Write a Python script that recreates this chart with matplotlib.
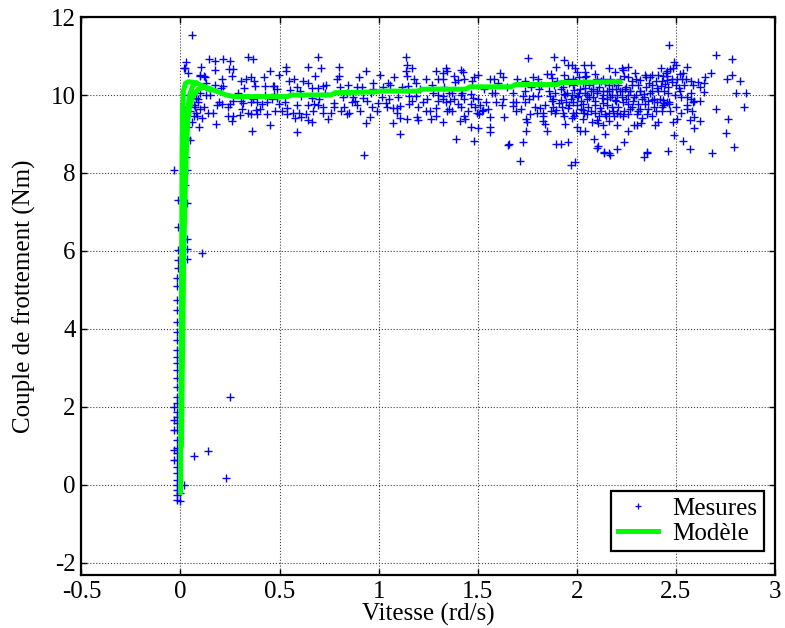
import numpy as np
import matplotlib
matplotlib.use('Agg')
import matplotlib.pyplot as plt
from matplotlib.lines import Line2D

plt.rcParams['font.family'] = ['Liberation Serif', 'DejaVu Serif']
plt.rcParams['font.size'] = 18

# --- measured points (vitesse rd/s, couple Nm), read off the picture ---
# vertical strip around zero speed
zero_x = [-0.018, -0.018, -0.017, -0.018, -0.017, -0.018, -0.017, -0.018, -0.017, -0.018,
          -0.017, -0.018, -0.017, -0.018, -0.017, -0.018, -0.017, -0.018, -0.017, -0.018,
          -0.017, -0.018, -0.017, -0.018, -0.017, -0.018, -0.017, -0.018, -0.017, -0.018,
          -0.033, -0.033, -0.033, -0.033, -0.033, -0.033,
          -0.015, -0.015, -0.015, -0.015, -0.015,
          0.031, 0.031, 0.031, 0.031, 0.031, 0.04, 0.05, 0.018, 0.026, 0.04, 0.099, 0.124,
          0.11, 0.25, 0.14, 0.07, 0.23, 0.018, 0.0, 0.0]
zero_y = [5.30, 5.09, 4.74, 4.49, 4.19, 3.93, 3.72, 3.46, 3.29, 3.12,
          2.95, 2.73, 2.52, 2.26, 2.09, 1.88, 1.75, 1.58, 1.41, 1.15,
          0.94, 0.81, 0.64, 0.47, 0.30, 0.13, 0.0, -0.13, -0.26, -0.38,
          8.08, 2.0, 1.66, 1.41, 0.9, 0.64,
          7.31, 6.62, 6.03, 5.77, 5.56,
          8.08, 7.24, 6.30, 6.04, 5.79, 9.19, 8.85, 10.68, 10.84, 10.57, 10.5, 10.45,
          5.96, 2.25, 0.87, 0.73, 0.17, 0.0, -0.21, -0.40]

# low speed cloud, 0.05 .. 0.66 rd/s
low_x = [0.06, 0.146, 0.175, 0.213, 0.250, 0.342, 0.364, 0.022, 0.102, 0.119, 0.099, 0.172,
         0.245, 0.264, 0.262, 0.208, 0.304, 0.356, 0.371, 0.452, 0.499, 0.533, 0.533, 0.573,
         0.646, 0.646, 0.172, 0.213, 0.203, 0.320, 0.376, 0.427, 0.469, 0.489, 0.553, 0.586,
         0.603, 0.607, 0.099, 0.129, 0.078, 0.090, 0.073, 0.099, 0.068, 0.085, 0.196, 0.186,
         0.208, 0.250, 0.264, 0.238, 0.304, 0.317, 0.354, 0.364, 0.385, 0.381, 0.354, 0.341,
         0.301, 0.267, 0.242, 0.259, 0.166, 0.180, 0.092, 0.385, 0.410, 0.438, 0.438, 0.452,
         0.477, 0.489, 0.499, 0.536, 0.536, 0.566, 0.578, 0.600, 0.607, 0.586, 0.363, 0.646,
         0.634, 0.646, 0.528, 0.472, 0.427, 0.472]
low_y = [11.54, 10.92, 10.87, 10.92, 10.87, 10.98, 10.92, 10.68, 10.72, 10.49, 10.52, 10.64,
         10.66, 10.66, 10.50, 10.40, 10.35, 10.46, 10.35, 10.61, 10.51, 10.72, 10.61, 10.40,
         10.71, 10.31, 10.26, 10.24, 10.17, 10.17, 10.24, 10.24, 10.24, 10.15, 10.13, 10.20,
         10.09, 9.98, 10.05, 10.0, 9.93, 9.83, 9.70, 9.64, 9.47, 9.47, 9.81, 9.74,
         9.78, 9.78, 9.84, 9.69, 9.84, 9.79, 9.82, 9.91, 9.82, 9.61, 9.52, 9.53,
         9.48, 9.47, 9.47, 9.33, 9.53, 9.25, 9.19, 9.52, 9.76, 9.81, 9.50, 9.23,
         9.59, 9.93, 9.78, 9.66, 9.50, 9.55, 9.42, 9.55, 9.44, 9.04, 9.07, 9.74,
         9.52, 9.36, 9.83, 10.03, 9.99, 10.23]

# 0.66 .. 1.32 rd/s
mid_x = [0.696, 0.707, 0.798, 0.798, 0.936, 1.007, 1.139, 1.142, 1.139, 1.169, 1.142, 1.179,
         1.239, 1.302, 1.290, 1.188, 1.150, 0.663, 0.696, 0.721, 0.735, 0.805, 0.847, 0.890,
         0.916, 0.970, 0.974, 1.045, 1.057, 0.663, 0.675, 0.696, 0.718, 0.718, 0.668, 0.663,
         0.746, 0.775, 0.775, 0.822, 0.827, 0.852, 0.840, 0.865, 0.882, 0.890, 0.907, 0.923,
         0.957, 0.965, 0.936, 0.999, 1.038, 1.041, 1.016, 1.071, 1.095, 1.095, 1.109, 1.109,
         1.071, 1.142, 1.155, 1.155, 1.188, 1.200, 1.195, 1.200, 1.226, 1.243, 1.259, 1.263,
         1.290, 1.290, 1.276, 1.302, 1.109, 0.927]
mid_y = [10.98, 10.68, 10.72, 10.48, 10.61, 10.51, 10.98, 10.78, 10.61, 10.68, 10.48, 10.40,
         10.40, 10.40, 10.61, 10.30, 10.24, 10.18, 10.19, 10.24, 10.26, 10.21, 10.26, 10.21,
         10.21, 10.32, 10.16, 10.30, 10.26, 9.93, 9.76, 9.74, 9.70, 9.55, 9.59, 9.31,
         9.38, 9.79, 9.68, 9.95, 9.70, 9.55, 9.50, 9.81, 9.84, 9.74, 9.59, 9.93,
         9.44, 9.70, 9.27, 9.79, 9.79, 9.68, 9.95, 9.66, 9.67, 9.55, 9.72, 9.42,
         9.27, 9.38, 9.76, 9.97, 9.97, 9.70, 9.44, 9.36, 9.81, 9.90, 9.59, 9.38,
         9.47, 9.67, 10.04, 10.0, 9.01, 8.47]

# 1.32 .. 1.99 rd/s
upp_x = [1.756, 1.885, 1.935, 1.957, 1.895, 1.340, 1.347, 1.326, 1.323, 1.414, 1.427, 1.431,
         1.403, 1.386, 1.481, 1.503, 1.562, 1.582, 1.613, 1.626, 1.739, 1.806, 1.806, 1.873,
         1.885, 1.935, 1.957, 1.369, 1.381, 1.414, 1.431, 1.398, 1.414, 1.357, 1.347, 1.369,
         1.340, 1.326, 1.326, 1.410, 1.431, 1.436, 1.465, 1.465, 1.478, 1.487, 1.512, 1.498,
         1.508, 1.520, 1.529, 1.541, 1.562, 1.562, 1.562, 1.465, 1.503, 1.481, 1.391, 1.587,
         1.592, 1.621, 1.633, 1.676, 1.676, 1.693, 1.693, 1.660, 1.730, 1.739, 1.744, 1.751,
         1.744, 1.727, 1.764, 1.781, 1.806, 1.814, 1.831, 1.831, 1.840, 1.851, 1.865, 1.873,
         1.879, 1.890, 1.895, 1.918, 1.923, 1.935, 1.935, 1.945, 1.957, 1.940, 1.895, 1.918,
         1.957, 1.323, 1.357, 1.969, 1.990, 1.713, 1.655, 2.104]
upp_y = [10.94, 10.98, 10.89, 10.76, 10.72, 10.68, 10.62, 10.56, 10.41, 10.64, 10.60, 10.42,
         10.38, 10.34, 10.47, 10.52, 10.41, 10.42, 10.56, 10.47, 10.36, 10.42, 10.32, 10.44,
         10.26, 10.52, 10.42, 10.04, 9.89, 9.99, 9.89, 9.78, 9.70, 9.64, 9.59, 9.59,
         9.81, 9.89, 9.31, 9.34, 9.47, 9.38, 9.78, 10.02, 9.93, 9.68, 9.74, 9.55,
         9.50, 9.59, 9.61, 9.83, 9.44, 9.19, 9.04, 9.19, 9.15, 8.82, 8.87, 10.04,
         9.83, 9.74, 9.44, 9.83, 9.73, 9.81, 9.59, 8.74, 9.98, 9.81, 9.38, 9.30,
         9.07, 8.79, 9.52, 9.98, 9.98, 9.67, 9.55, 9.33, 9.25, 9.07, 9.98, 9.85,
         9.70, 9.55, 9.62, 9.87, 9.70, 10.02, 9.47, 9.83, 9.67, 9.25, 8.74, 8.74,
         8.79, 9.98, 10.04, 8.20, 8.27, 8.32, 8.72, 8.65]

# dense cloud 1.97 .. 2.5 rd/s
hi_x = [2.467, 1.974, 1.991, 2.037, 2.070, 2.160, 2.193, 2.227, 2.260, 2.235, 2.293, 2.423,
        2.453, 2.000, 2.042, 2.046, 2.092, 2.100, 2.134, 1.979, 2.277, 2.319, 2.344, 2.382,
        2.411, 2.436, 2.457, 2.366, 2.423, 2.445, 2.403, 2.462, 2.319, 2.339, 2.370, 2.269,
        2.243, 2.218, 2.201, 2.176, 2.160, 2.134, 2.104, 2.070, 2.042, 2.017, 1.986, 1.974,
        2.008, 2.050, 2.083, 2.126, 2.151, 2.193, 2.235, 2.260, 2.285, 2.310, 2.344, 2.378,
        2.406, 2.433, 2.457, 2.428, 1.979, 2.000, 2.033, 2.058, 2.092, 2.117, 2.030, 1.996,
        2.037, 2.030, 1.986, 1.974, 2.143, 2.148, 2.181, 2.201, 2.235, 2.260, 2.302, 2.353,
        2.378, 2.327, 2.075, 2.109, 2.160, 2.201, 2.134, 2.302, 2.322, 2.411, 2.394, 2.288,
        2.000, 2.017, 2.042, 2.143, 2.260, 2.087, 2.238, 2.109, 2.201, 2.138, 2.165, 2.353,
        2.467, 2.461, 2.339, 2.352, 2.137, 2.167]
hi_y = [11.27, 10.76, 10.68, 10.76, 10.76, 10.70, 10.60, 10.68, 10.72, 10.64, 10.56, 10.68,
        10.61, 10.60, 10.60, 10.48, 10.53, 10.42, 10.42, 10.42, 10.36, 10.39, 10.52, 10.52,
        10.52, 10.50, 10.48, 10.32, 10.24, 10.27, 10.17, 10.21, 10.09, 10.02, 10.04, 10.09,
        10.15, 10.09, 10.00, 10.15, 10.09, 10.11, 10.09, 10.11, 10.17, 10.15, 10.13, 10.00,
        9.98, 10.00, 9.95, 9.93, 9.89, 9.87, 9.83, 9.78, 9.84, 9.76, 9.78, 9.87,
        9.81, 9.87, 9.81, 9.70, 9.83, 9.74, 9.76, 9.70, 9.74, 9.67, 9.62, 9.55,
        9.55, 9.38, 9.47, 9.40, 9.52, 9.47, 9.59, 9.55, 9.47, 9.50, 9.52, 9.50,
        9.47, 9.40, 9.30, 9.28, 9.33, 9.23, 9.23, 9.23, 9.28, 9.32, 9.22, 9.22,
        9.19, 9.07, 9.07, 8.99, 9.07, 8.87, 8.79, 8.68, 8.61, 8.53, 8.50, 8.53,
        9.78, 8.56, 8.42, 8.52, 8.52, 8.46]

# extra points filling the denser parts of the cloud
band_x = [1.86, 1.88, 1.90, 1.91, 1.93, 1.94, 1.96, 1.97, 1.99, 2.01, 2.02, 2.03, 2.05, 2.06,
          2.07, 2.08, 2.09, 2.11, 2.12, 2.13, 2.14, 2.15, 2.16, 2.17, 2.18, 2.19, 2.20, 2.21,
          2.22, 2.23, 2.24, 2.25, 2.26, 2.27, 2.28, 2.29, 2.30, 2.31, 2.32, 2.33, 2.35, 2.36,
          2.38, 2.39, 2.40, 2.42, 2.43, 2.44, 1.84, 1.87, 1.98, 2.04, 2.10, 2.19, 2.24, 2.37,
          1.81, 1.79, 1.77, 1.83,
          0.05, 0.06, 0.07, 0.08, 0.09, 0.11, 0.12, 0.13, 0.14, 0.15, 0.03, 0.04, 0.035, 0.03,
          0.025,
          0.29, 0.31, 0.33, 0.40, 0.42, 0.46, 0.51, 0.55, 0.59, 0.62, 0.68, 0.70, 0.73, 0.76,
          0.79, 0.81, 0.84, 0.87, 0.90, 0.94, 0.96, 0.99, 1.02, 1.05, 1.08, 1.10, 1.12, 1.17,
          1.21, 1.24, 1.27, 1.30,
          1.33, 1.36, 1.38, 1.42, 1.45, 1.47, 1.50, 1.53, 1.55, 1.57, 1.60, 1.63, 1.65, 1.68,
          1.70, 1.72, 1.74, 1.76, 1.78, 1.80, 1.82, 1.85, 1.87, 1.89,
          1.92, 1.93, 1.95, 1.96, 1.98, 2.00, 2.01, 2.02, 2.04, 2.05, 2.06, 2.08, 2.09, 2.10,
          2.11, 2.12, 2.13, 2.15, 2.16, 2.17, 2.18, 2.20, 2.21, 2.22, 2.23, 2.25, 2.26, 2.27,
          2.28, 2.30, 2.31, 2.32, 2.34, 2.35, 2.36, 2.38, 2.39, 2.40, 2.41, 2.43, 2.44, 2.46,
          2.47, 2.48, 2.50, 2.52, 2.55, 2.58]
band_y = [10.1, 9.9, 10.35, 9.8, 10.2, 10.0, 10.3, 9.9, 10.35, 10.05, 9.85, 10.3, 9.9, 10.25,
          9.6, 10.3, 9.85, 10.2, 9.6, 10.0, 10.3, 9.75, 10.25, 9.95, 9.7, 10.3, 10.15, 9.7,
          10.4, 9.95, 9.6, 10.2, 10.0, 9.65, 10.25, 9.95, 10.4, 9.6, 10.1, 9.9, 10.2, 9.65,
          10.1, 9.7, 10.35, 9.9, 9.6, 10.1, 9.75, 10.55, 9.55, 10.45, 9.35, 9.45, 10.5, 10.45,
          10.15, 9.7, 10.2, 9.45,
          9.6, 9.3, 9.75, 9.55, 9.9, 9.4, 9.7, 10.3, 9.55, 10.0, 9.7, 10.0, 8.9, 8.4,
          7.7,
          10.05, 9.65, 10.4, 9.65, 10.45, 9.9, 9.6, 10.35, 9.75, 10.35, 10.5, 9.9, 10.05, 9.55,
          10.4, 9.6, 10.05, 9.95, 10.45, 9.85, 10.05, 9.6, 10.2, 9.9, 10.45, 9.95, 10.2, 9.85,
          10.15, 9.6, 10.25, 9.85,
          10.2, 9.85, 10.5, 10.05, 9.6, 10.35, 9.9, 10.15, 9.65, 10.05, 10.3, 9.9, 10.2, 10.05,
          10.4, 9.65, 10.1, 9.9, 10.45, 9.55, 10.25, 10.55, 9.6, 10.05,
          10.15, 9.55, 10.05, 9.75, 10.25, 9.95, 10.45, 9.65, 10.05, 9.5, 9.95, 10.15, 9.55, 10.05,
          9.45, 10.35, 9.8, 10.1, 9.55, 10.4, 10.0, 9.85, 10.25, 9.5, 10.1, 9.9, 10.45, 10.1,
          9.7, 10.0, 10.25, 9.65, 9.95, 10.45, 9.85, 10.25, 9.9, 9.6, 10.1, 10.35, 9.8, 10.05,
          9.6, 10.4, 9.7, 10.1, 10.4, 9.6]

# sparse tail 2.48 .. 2.86 rd/s
tail_x = [2.491, 2.534, 2.571, 2.683, 2.794, 2.752, 2.764, 2.845, 2.803, 2.853, 2.705, 2.781,
          2.703, 2.823, 2.756, 2.781, 2.646, 2.675, 2.641, 2.612, 2.641, 2.623, 2.621, 2.592,
          2.592, 2.621, 2.592, 2.571, 2.557, 2.491, 2.501, 2.554, 2.484, 2.537, 2.521, 2.470,
          2.450, 2.575, 2.530, 2.504, 2.479, 2.453, 2.588, 2.541, 2.501, 2.518, 2.575, 2.575,
          2.554, 2.525, 2.496, 2.588, 2.554, 2.467, 2.436, 2.525, 2.508, 2.487]
tail_y = [8.97, 8.83, 8.62, 8.52, 8.67, 9.03, 9.38, 9.68, 10.06, 10.06, 9.64, 10.92,
          11.03, 10.36, 10.41, 10.51, 10.47, 10.57, 10.32, 10.34, 10.08, 10.21, 9.85, 9.85,
          9.43, 9.34, 9.15, 9.36, 9.64, 10.85, 10.78, 10.72, 10.70, 10.56, 10.54, 10.66,
          10.56, 10.36, 10.41, 10.42, 10.34, 10.38, 10.26, 10.26, 10.26, 10.19, 10.05, 9.89,
          9.95, 9.95, 9.99, 9.83, 9.74, 9.83, 9.74, 9.55, 9.38, 9.30]

# --- model (Modele) ---
model_x = [0.0, 0.001, 0.003, 0.005, 0.007, 0.008, 0.01, 0.015, 0.025, 0.04, 0.06, 0.09,
           0.13, 0.18, 0.23, 0.27, 0.54, 0.56, 0.76, 0.78, 0.99, 1.01, 1.2, 1.22, 1.44,
           1.46, 1.67, 1.69, 1.9, 1.92, 2.22]
model_y = [-0.2, 1.0, 3.0, 5.0, 7.0, 8.5, 9.6, 10.1, 10.3, 10.34, 10.33, 10.28,
           10.2, 10.1, 10.0, 9.96, 9.96, 10.0, 10.0, 10.06, 10.08, 10.1, 10.1, 10.15, 10.15,
           10.21, 10.21, 10.27, 10.27, 10.32, 10.34]
loop1_x = [0.15, 0.12, 0.09, 0.06, 0.045, 0.036, 0.03, 0.024, 0.019, 0.015, 0.012, 0.008, 0.005]
loop1_y = [10.12, 10.2, 10.15, 9.95, 9.65, 9.3, 8.6, 7.6, 6.5, 5.5, 4.0, 2.5, 1.0]
loop2_x = [0.08, 0.06, 0.045, 0.032, 0.024, 0.018, 0.014, 0.011]
loop2_y = [10.32, 10.22, 9.95, 9.5, 8.7, 7.4, 6.2, 4.5]

x_all = zero_x + low_x + mid_x + upp_x + hi_x + band_x + tail_x
y_all = zero_y + low_y + mid_y + upp_y + hi_y + band_y + tail_y

fig = plt.figure(figsize=(7.85, 6.28), dpi=100)
ax = fig.add_axes([0.1037, 0.0844, 0.8835, 0.8885])

ax.plot(x_all, y_all, '+', color='#0000ff', markersize=5.5, markeredgewidth=1.0, zorder=2)
for mx, my in [(model_x, model_y), (loop1_x, loop1_y), (loop2_x, loop2_y)]:
    ax.plot(mx, my, '-', color='#00ff00', lw=3.6, solid_capstyle='round', zorder=3)

ax.set_xlim(-0.5, 3)
ax.set_ylim(-2.31, 12)
ax.set_xticks([-0.5, 0, 0.5, 1, 1.5, 2, 2.5, 3])
ax.set_xticklabels(['-0.5', '0', '0.5', '1', '1.5', '2', '2.5', '3'])
ax.set_yticks([-2, 0, 2, 4, 6, 8, 10, 12])
ax.set_yticklabels(['-2', '0', '2', '4', '6', '8', '10', '12'])
ax.grid(True, linestyle=':', color='0.25', linewidth=0.8)
ax.set_axisbelow(True)
ax.tick_params(direction='in', length=4, width=1, pad=4, labelsize=18,
               top=True, right=True)
for s in ax.spines.values():
    s.set_linewidth(1.6)

ax.set_xlabel('Vitesse (rd/s)', fontsize=18, labelpad=0)
ax.set_ylabel('Couple de frottement (Nm)', fontsize=18, labelpad=11)

handles = [Line2D([], [], marker='+', color='#0000ff', linestyle='none',
                  markersize=4, markeredgewidth=0.9),
           Line2D([], [], color='#00ff00', lw=3.6)]
leg = ax.legend(handles, ['Mesures', 'Modèle'], loc='lower right',
                bbox_to_anchor=(0.984, 0.043), borderaxespad=0, fancybox=False,
                framealpha=1, edgecolor='black', fontsize=18, handlelength=1.6,
                handletextpad=0.6, borderpad=0.25, labelspacing=0.1)
leg.get_frame().set_linewidth(1.6)

fig.savefig('out.png', dpi=100)
